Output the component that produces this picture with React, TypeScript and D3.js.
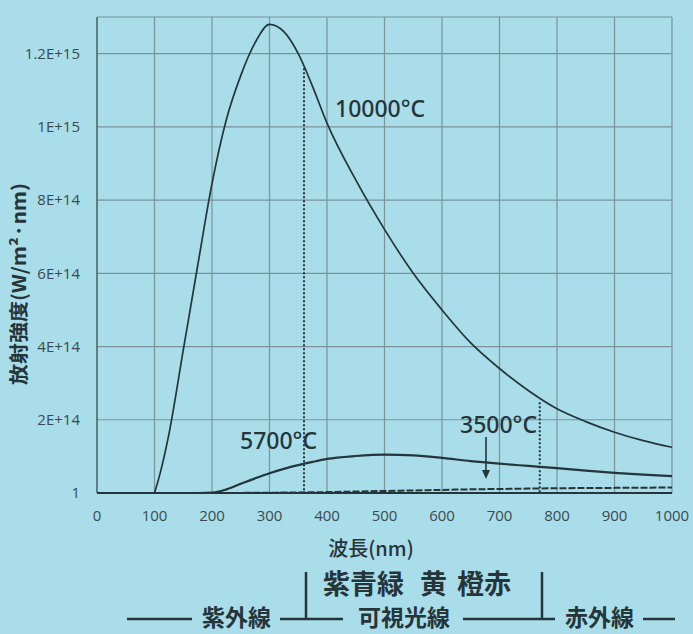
import { useEffect, useRef } from "react";
import * as d3 from "d3";

// 波長 (nm)
const wavelengths = [100, 110, 125, 150, 175, 200, 225, 250, 275, 300, 325, 350, 375, 400, 450, 500, 550, 600, 650, 700, 750, 800, 850, 900, 950, 1000];
// 放射強度 (×1E+14)
const t10000 = [0, 0.55, 1.6, 3.9, 6.2, 8.45, 10.2, 11.4, 12.3, 12.8, 12.6, 12.0, 11.1, 10.1, 8.55, 7.2, 6.0, 5.0, 4.1, 3.4, 2.8, 2.3, 1.95, 1.66, 1.43, 1.25];
const t5700 = [0, 0, 0, 0, 0, 0.01, 0.1, 0.25, 0.4, 0.54, 0.66, 0.76, 0.85, 0.93, 1.01, 1.05, 1.03, 0.96, 0.87, 0.8, 0.74, 0.68, 0.61, 0.55, 0.5, 0.46];
const t3500 = [0, 0, 0, 0, 0, 0, 0, 0.003, 0.005, 0.008, 0.012, 0.016, 0.02, 0.025, 0.04, 0.055, 0.07, 0.085, 0.1, 0.11, 0.12, 0.13, 0.135, 0.14, 0.145, 0.15];

const xTicks = [0, 100, 200, 300, 400, 500, 600, 700, 800, 900, 1000];
const yTicks = [0, 2e14, 4e14, 6e14, 8e14, 1e15, 1.2e15];
const yTickLabels = ["1", "2E+14", "4E+14", "6E+14", "8E+14", "1E+15", "1.2E+15"];

// 可視光の境界 (nm) と点線の上端 (×1E+14)
const visibleEdges = [360, 770];
const edgeTops = [11.6, 2.48];

const W = 693;
const H = 634;
const BG = "#a8dde9";
const INK = "#26353a";
const GRID = "#7b9399";

function App() {
    const ref = useRef(null);

    useEffect(() => {
        document.body.style.margin = "0";
        const svg = d3.select(ref.current);
        svg.selectAll("*").remove();

        svg.append("rect").attr("width", W).attr("height", H).attr("fill", BG);

        const x = d3.scaleLinear().domain([0, 1000]).range([97, 672]);
        const y = d3.scaleLinear().domain([0, 1.3e15]).range([493, 17]);

        const g = svg.append("g");

        // グリッド
        g.selectAll(".vgrid")
            .data(xTicks.slice(1))
            .join("line")
            .attr("x1", d => x(d)).attr("x2", d => x(d))
            .attr("y1", y(0)).attr("y2", y(1.3e15))
            .attr("stroke", GRID).attr("stroke-width", 1.2);
        g.selectAll(".hgrid")
            .data(yTicks.slice(1).concat([1.3e15]))
            .join("line")
            .attr("x1", x(0)).attr("x2", x(1000))
            .attr("y1", d => y(d)).attr("y2", d => y(d))
            .attr("stroke", GRID).attr("stroke-width", 1.2);

        // 軸
        g.append("line")
            .attr("x1", x(0)).attr("x2", x(0)).attr("y1", y(0)).attr("y2", y(1.3e15))
            .attr("stroke", "#4a5d62").attr("stroke-width", 1.5);
        g.append("line")
            .attr("x1", x(0)).attr("x2", x(1000)).attr("y1", y(0)).attr("y2", y(0))
            .attr("stroke", INK).attr("stroke-width", 2.2);

        // 目盛りラベル
        g.selectAll(".ylab")
            .data(yTicks)
            .join("text")
            .attr("x", 80)
            .attr("y", d => y(d))
            .attr("dy", "0.36em")
            .attr("text-anchor", "end")
            .attr("font-family", "Open Sans")
            .attr("font-size", 15)
            .attr("fill", "#3b4a4f")
            .text((d, i) => yTickLabels[i]);
        g.selectAll(".xlab")
            .data(xTicks)
            .join("text")
            .attr("x", d => x(d))
            .attr("y", 521)
            .attr("text-anchor", "middle")
            .attr("font-family", "Open Sans")
            .attr("font-size", 15)
            .attr("fill", "#3b4a4f")
            .text(d => d);

        // 可視光の境界（点線）
        g.selectAll(".edge")
            .data(visibleEdges)
            .join("line")
            .attr("x1", d => x(d)).attr("x2", d => x(d))
            .attr("y1", (d, i) => y(edgeTops[i] * 1e14)).attr("y2", y(0))
            .attr("stroke", INK).attr("stroke-width", 2).attr("stroke-dasharray", "2,2");

        // 曲線
        const line = d3.line()
            .x((d, i) => x(wavelengths[i]))
            .y(d => y(d * 1e14))
            .curve(d3.curveMonotoneX);

        g.append("path").attr("d", line(t3500))
            .attr("fill", "none").attr("stroke", INK).attr("stroke-width", 2)
            .attr("stroke-dasharray", "7,2");
        g.append("path").attr("d", line(t5700))
            .attr("fill", "none").attr("stroke", INK).attr("stroke-width", 2.2);
        g.append("path").attr("d", line(t10000))
            .attr("fill", "none").attr("stroke", INK).attr("stroke-width", 1.7);

        // 温度ラベル
        const ann = (text, px, py) =>
            g.append("text")
                .attr("x", px).attr("y", py)
                .attr("font-family", "Noto Sans")
                .attr("font-size", 23)
                .attr("font-weight", 500)
                .attr("fill", INK)
                .text(text);
        ann("10000°C", 335, 117);
        ann("5700°C", 240, 449);
        ann("3500°C", 460, 433);

        // 矢印
        g.append("line")
            .attr("x1", 486).attr("x2", 486).attr("y1", 437).attr("y2", 472)
            .attr("stroke", INK).attr("stroke-width", 1.6);
        g.append("path")
            .attr("d", "M482,470 L490,470 L486,479 Z")
            .attr("fill", INK);

        // 軸タイトル
        svg.append("text")
            .attr("transform", "translate(26,284) rotate(-90)")
            .attr("text-anchor", "middle")
            .attr("font-family", "Noto Sans CJK JP")
            .attr("font-size", 19)
            .attr("font-weight", 700)
            .attr("fill", INK)
            .attr("textLength", 202)
            .attr("lengthAdjust", "spacingAndGlyphs")
            .text("放射強度(W/m²·nm)");

        svg.append("text")
            .attr("x", 371).attr("y", 556)
            .attr("text-anchor", "middle")
            .attr("font-family", "Noto Sans CJK JP")
            .attr("font-size", 20)
            .attr("font-weight", 500)
            .attr("fill", INK)
            .text("波長(nm)");

        // 光の区分
        const jp = (text, px, py, size) =>
            svg.append("text")
                .attr("x", px).attr("y", py)
                .attr("font-family", "Noto Sans CJK JP")
                .attr("font-size", size)
                .attr("font-weight", 700)
                .attr("fill", INK)
                .text(text);
        jp("紫青緑", 323, 594, 27);
        jp("黄", 420, 594, 27);
        jp("橙赤", 457, 594, 27);
        jp("紫外線", 202, 626, 23);
        jp("可視光線", 358, 626, 23);
        jp("赤外線", 565, 626, 23);

        const rule = (x1, y1, x2, y2) =>
            svg.append("line")
                .attr("x1", x1).attr("y1", y1).attr("x2", x2).attr("y2", y2)
                .attr("stroke", INK).attr("stroke-width", 2.5);
        rule(306, 572, 306, 619);
        rule(542, 572, 542, 619);
        rule(127, 619, 192, 619);
        rule(280, 619, 343, 619);
        rule(463, 619, 555, 619);
        rule(643, 619, 675, 619);
    }, []);

    return <svg width={W} height={H} ref={ref} style={{ display: "block" }}></svg>;
}

export default App;
